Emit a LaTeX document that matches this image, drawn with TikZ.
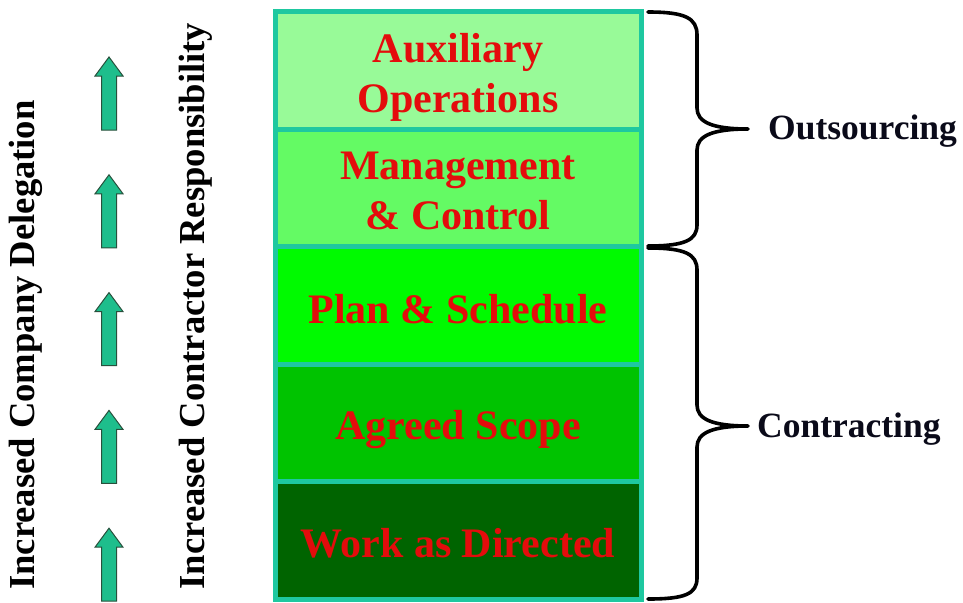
\documentclass[tikz,border=0pt]{standalone}
\usepackage{fontspec}
\setmainfont{Liberation Serif}
\definecolor{tealb}{RGB}{30,200,160}
\definecolor{fAux}{RGB}{152,250,152}
\definecolor{fMan}{RGB}{100,250,100}
\definecolor{fPlan}{RGB}{0,250,0}
\definecolor{fAgr}{RGB}{0,195,0}
\definecolor{fWork}{RGB}{0,100,0}
\definecolor{segtext}{RGB}{228,12,12}
\definecolor{arrfill}{RGB}{30,190,140}
\definecolor{arrline}{RGB}{40,80,60}
\definecolor{labtext}{RGB}{10,10,25}
\begin{document}
\begin{tikzpicture}[x=1pt,y=-1pt,
  seg/.style={draw=tealb, line width=5pt, minimum width=366pt, minimum height=117.4pt,
    inner sep=0pt},
  segtxt/.style={inner sep=0pt, text=segtext, align=center,
    font=\fontsize{42}{50}\selectfont\bfseries},
  sidelab/.style={rotate=90, anchor=base, inner sep=0pt, text=black,
    font=\fontsize{36.6}{40}\selectfont\bfseries},
  grouplab/.style={anchor=west, inner sep=0pt, text=labtext,
    font=\fontsize{35.5}{40}\selectfont\bfseries},
  blockarrow/.style={fill=arrfill, draw=arrline, line width=1pt, line join=miter},
  bracepath/.style={draw=black, line width=3.6pt, line cap=round, line join=round}]
\useasboundingbox (0,0) rectangle (963,602);

% stacked boxes
\node[seg, fill=fAux]  (aux)  at (458,70.7)  {};
\node[seg, fill=fMan]  (man)  at (458,188.1) {};
\node[seg, fill=fPlan] (plan) at (458,305.5) {};
\node[seg, fill=fAgr]  (agr)  at (458,422.9) {};
\node[seg, fill=fWork] (work) at (458,540.3) {};

% box texts
\node[segtxt] (auxt)  at (458,77)  {Auxiliary\\Operations};
\node[segtxt] (mant)  at (458,191) {Management\\\& Control};
\node[segtxt] (plant) at (458,309) {Plan \& Schedule};
\node[segtxt] (agrt)  at (458,430) {Agreed Scope};
\node[segtxt] (workt) at (458,543) {Work as Directed};

% side labels
\node[sidelab] (deleg) at (34,345) {Increased Company Delegation};
\node[sidelab] (resp)  at (204,306) {Increased Contractor Responsibility};

% block arrows
\foreach \i in {0,...,4}{
  \pgfmathsetmacro{\t}{57+117.8*\i}
  \draw[blockarrow] (109,\t) -- (123,\t+19) -- (116.5,\t+19) -- (116.5,\t+73)
    -- (101.5,\t+73) -- (101.5,\t+19) -- (95,\t+19) -- cycle;
}

% braces
\draw[bracepath] (648,12) .. controls (685,12) and (697,18) .. (697,35)
  -- (697,108) .. controls (697,122) and (712,129) .. (748,129)
  .. controls (712,129) and (697,136) .. (697,150)
  -- (697,225) .. controls (697,240) and (685,246) .. (648,246);
\draw[bracepath] (648,248) .. controls (685,248) and (697,254) .. (697,270)
  -- (697,405) .. controls (697,419) and (712,426) .. (748,426)
  .. controls (712,426) and (697,433) .. (697,447)
  -- (697,578) .. controls (697,594) and (685,599) .. (648,599);

% group labels
\node[grouplab] (outs) at (768,131) {Outsourcing};
\node[grouplab] (contr) at (757,429) {Contracting};
\end{tikzpicture}
\end{document}
